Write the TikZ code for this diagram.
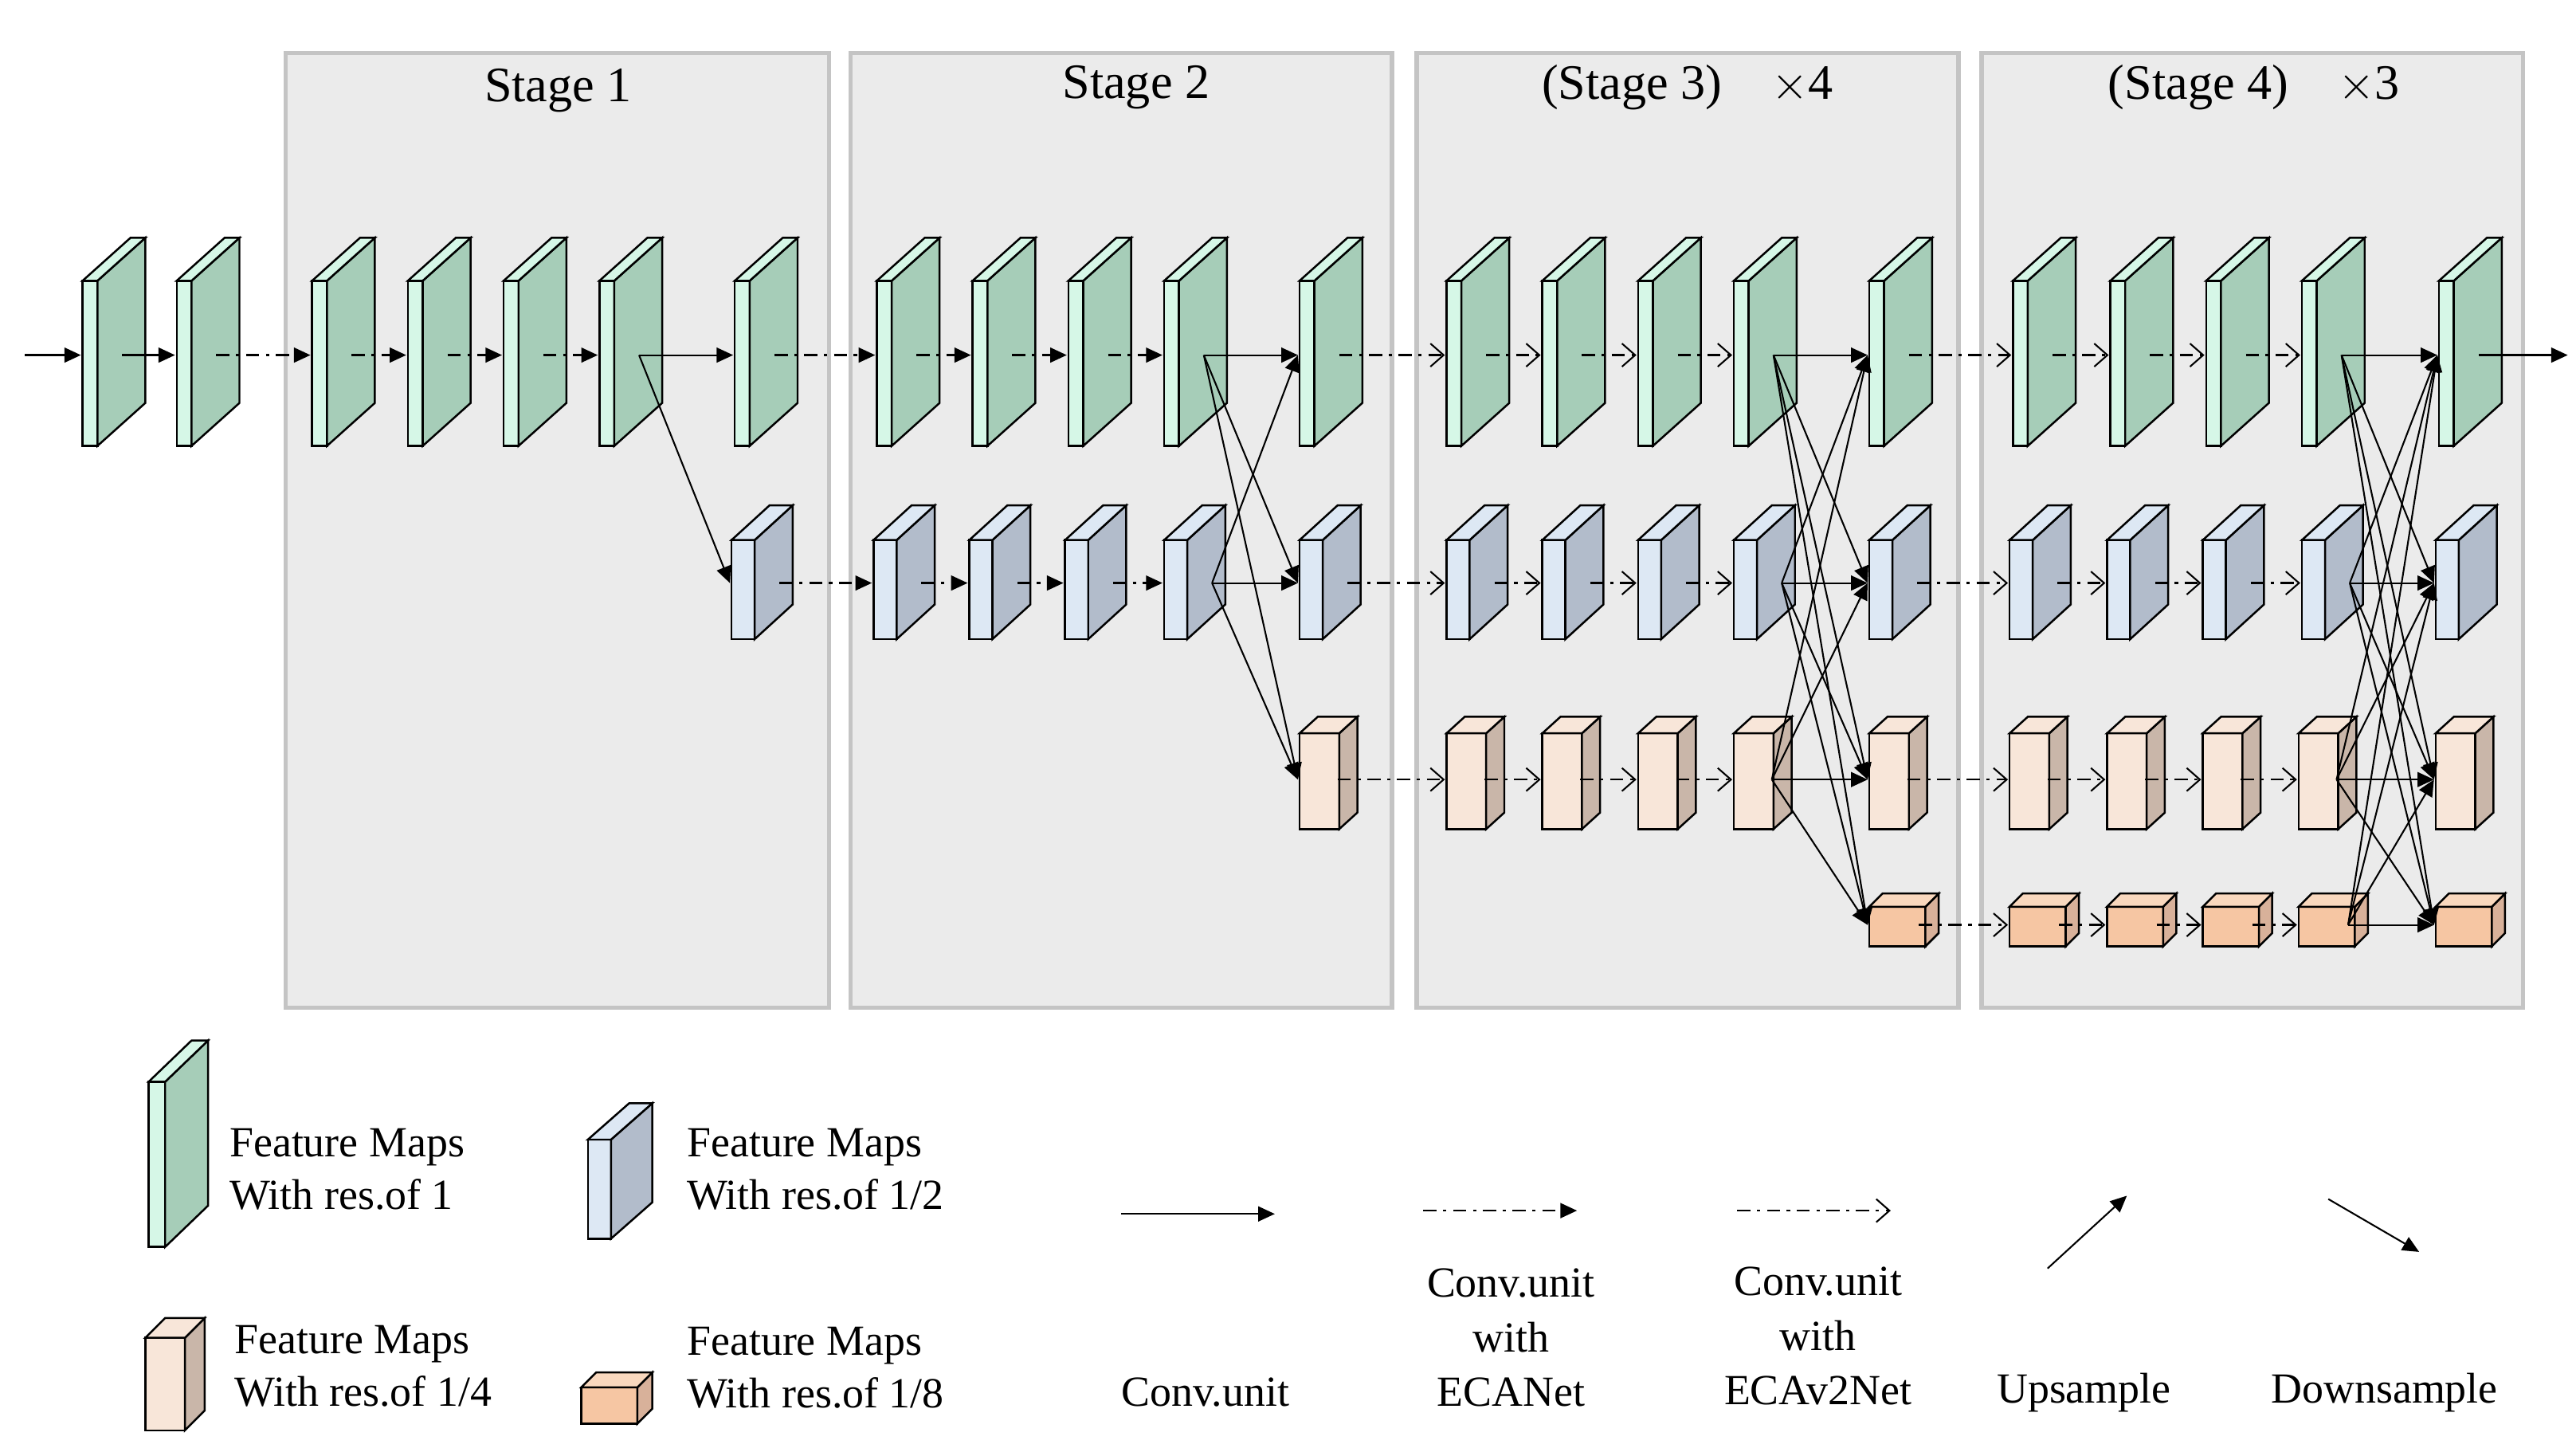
\documentclass[tikz,border=0pt]{standalone}
\usepackage{fontspec}
\setmainfont{Liberation Serif}
\usetikzlibrary{arrows.meta}
\definecolor{gF}{HTML}{D6F7E7}\definecolor{gS}{HTML}{A6CDB8}
\definecolor{bF}{HTML}{DDE8F4}\definecolor{bS}{HTML}{B2BCCB}
\definecolor{tF}{HTML}{F8E6D9}\definecolor{tS}{HTML}{C9B6A9}
\definecolor{oF}{HTML}{F6C6A3}\definecolor{oS}{HTML}{D8B19A}\definecolor{oT}{HTML}{F9D8BE}
\definecolor{stg}{HTML}{EBEBEB}\definecolor{stgb}{HTML}{C4C4C4}
\newcommand\fmbox[9]{% name x ytop w h dx dy F S ; arrow y / out offset via \fmay \fmout
  \draw[line width=0.6pt,fill=#8] (#2,#3) rectangle ++(#4,#5);
  \draw[line width=0.6pt,fill=#9] (#2+#4,#3) -- ++(#6,-#7) -- ++(0,#5) -- ++(-#6,#7) -- cycle;
  \draw[line width=0.6pt,fill=#8] (#2,#3) -- ++(#6,-#7) -- ++(#4,0) -- ++(-#6,#7) -- cycle;
  \coordinate (#1-in) at (#2-1,\fmay);
  \coordinate (#1-out) at (#2+\fmout,\fmay);}
\newcommand\Gb[2]{\def\fmay{215}\def\fmout{24}\fmbox{#1}{#2}{170}{9}{100}{29}{26}{gF}{gS}}
\newcommand\Bb[2]{\def\fmay{353}\def\fmout{29}\fmbox{#1}{#2}{327}{14}{60}{23}{21}{bF}{bS}}
\newcommand\Tb[2]{\def\fmay{472}\def\fmout{23}\fmbox{#1}{#2}{444}{24}{58}{11}{10}{tF}{tS}}
\newcommand\Ob[2]{\def\fmay{560}\def\fmout{30}%
  \draw[line width=0.6pt,fill=oF] (#2,549) rectangle ++(34,24);
  \draw[line width=0.6pt,fill=oS] (#2+34,549) -- ++(8,-8) -- ++(0,24) -- ++(-8,8) -- cycle;
  \draw[line width=0.6pt,fill=oT] (#2,549) -- ++(8,-8) -- ++(34,0) -- ++(-8,8) -- cycle;
  \coordinate (#1-in) at (#2-1,\fmay);
  \coordinate (#1-out) at (#2+\fmout,\fmay);}
\tikzset{
  conv/.style={line width=0.55pt,-{Triangle[length=5pt,width=4.5pt]}},
  eca/.style={line width=0.55pt,dash pattern=on 4pt off 2pt on 1pt off 2pt,-{Triangle[length=5pt,width=4.5pt]}},
  eca2/.style={line width=0.55pt,dash pattern=on 4pt off 2pt on 1pt off 2pt,-{Straight Barb[length=4pt,width=7pt,line width=0.5pt]}},
  fus/.style={line width=0.5pt,-{Triangle[length=5pt,width=4.5pt]}},
  stage/.style={fill=stg,draw=stgb,line width=1.3pt},
  ttl/.style={font=\fontsize{15pt}{18pt}\selectfont},
  lbl/.style={font=\fontsize{13pt}{16pt}\selectfont,align=left,anchor=west},
  lblc/.style={font=\fontsize{13pt}{16.5pt}\selectfont,align=center}
}
\begin{document}
\begin{tikzpicture}[x=0.5pt,y=-0.5pt]
\useasboundingbox (0,0) rectangle (1560,879);
\fill[white] (0,0) rectangle (1560,879);
% stages
\draw[stage] (173,32) rectangle (502,610);
\draw[stage] (515,32) rectangle (843,610);
\draw[stage] (858,32) rectangle (1186,610);
\draw[stage] (1200,32) rectangle (1528,610);
\node[ttl] (s1) at (338,55) {Stage 1};
\node[ttl] (s2) at (688,53) {Stage 2};
\node[ttl] (s3) at (1022,53) {(Stage 3)\quad$\times$4};
\node[ttl] (s4) at (1365,53) {(Stage 4)\quad$\times$3};
% blocks
\foreach \n/\x in {1/50,2/107,3/189,4/247,5/305,6/363,7/445,8/531,9/589,10/647,11/705,12/787,13/876,14/934,15/992,16/1050,17/1132,18/1219,19/1278,20/1336,21/1394,22/1477}{\Gb{g\n}{\x}}
\foreach \n/\x in {1/443,2/529,3/587,4/645,5/705,6/787,7/876,8/934,9/992,10/1050,11/1132,12/1217,13/1276,14/1334,15/1394,16/1475}{\Bb{b\n}{\x}}
\foreach \n/\x in {1/787,2/876,3/934,4/992,5/1050,6/1132,7/1217,8/1276,9/1334,10/1392,11/1475}{\Tb{t\n}{\x}}
\foreach \n/\x in {1/1132,2/1217,3/1276,4/1334,5/1392,6/1475}{\Ob{o\n}{\x}}
% row arrows
\coordinate (inp) at (15,215);
\coordinate (outp) at (1555,215);
\draw[conv] (inp) -- (g1-in);
\draw[conv] (g1-out) -- (g2-in);
\foreach \a/\b in {2/3,3/4,4/5,5/6,7/8,8/9,9/10,10/11}{\draw[eca] (g\a-out) -- (g\b-in);}
\foreach \a/\b in {12/13,13/14,14/15,15/16,17/18,18/19,19/20,20/21}{\draw[eca2] (g\a-out) -- (g\b-in);}
\draw[conv] (g22-out) -- (outp);
\foreach \a/\b in {1/2,2/3,3/4,4/5}{\draw[eca] (b\a-out) -- (b\b-in);}
\foreach \a/\b in {6/7,7/8,8/9,9/10,11/12,12/13,13/14,14/15}{\draw[eca2] (b\a-out) -- (b\b-in);}
\foreach \a/\b in {1/2,2/3,3/4,4/5,6/7,7/8,8/9,9/10}{\draw[eca2] (t\a-out) -- (t\b-in);}
\foreach \a/\b in {1/2,2/3,3/4,4/5}{\draw[eca2] (o\a-out) -- (o\b-in);}
% fusion
\draw[fus] (g6-out) -- (g7-in);
\draw[fus] (g6-out) -- (b1-in);
\foreach \s in {g11,b5}{\foreach \t in {g12,b6,t1}{\draw[fus] (\s-out) -- (\t-in);}}
\foreach \s in {g16,b10,t5}{\foreach \t in {g17,b11,t6,o1}{\draw[fus] (\s-out) -- (\t-in);}}
\foreach \s in {g21,b15,t10,o5}{\foreach \t in {g22,b16,t11,o6}{\draw[fus] (\s-out) -- (\t-in);}}
% legend blocks
\draw[line width=0.6pt,fill=gF] (90,655) rectangle ++(10,100);
\draw[line width=0.6pt,fill=gS] (100,655) -- ++(26,-25) -- ++(0,100) -- ++(-26,25) -- cycle;
\draw[line width=0.6pt,fill=gF] (90,655) -- ++(26,-25) -- ++(10,0) -- ++(-26,25) -- cycle;
\draw[line width=0.6pt,fill=bF] (356,690) rectangle ++(14,60);
\draw[line width=0.6pt,fill=bS] (370,690) -- ++(25,-22) -- ++(0,60) -- ++(-25,22) -- cycle;
\draw[line width=0.6pt,fill=bF] (356,690) -- ++(25,-22) -- ++(14,0) -- ++(-25,22) -- cycle;
\draw[line width=0.6pt,fill=tF] (88,810) rectangle ++(24,56);
\draw[line width=0.6pt,fill=tS] (112,810) -- ++(12,-12) -- ++(0,56) -- ++(-12,12) -- cycle;
\draw[line width=0.6pt,fill=tF] (88,810) -- ++(12,-12) -- ++(24,0) -- ++(-12,12) -- cycle;
\draw[line width=0.6pt,fill=oF] (352,840) rectangle ++(34,22);
\draw[line width=0.6pt,fill=oS] (386,840) -- ++(9,-9) -- ++(0,22) -- ++(-9,9) -- cycle;
\draw[line width=0.6pt,fill=oT] (352,840) -- ++(9,-9) -- ++(34,0) -- ++(-9,9) -- cycle;
\node[lbl] (l1) at (132,708) {Feature Maps\\With res.of 1};
\node[lbl] (l2) at (409,708) {Feature Maps\\With res.of 1/2};
\node[lbl] (l3) at (135,827) {Feature Maps\\With res.of 1/4};
\node[lbl] (l4) at (409,828) {Feature Maps\\With res.of 1/8};
% legend arrows
\coordinate (a1s) at (679,735); \coordinate (a1e) at (772,735);
\coordinate (a2s) at (862,733); \coordinate (a2e) at (955,733);
\coordinate (a3s) at (1052,733); \coordinate (a3e) at (1145,733);
\coordinate (a4s) at (1240,768); \coordinate (a4e) at (1288,724);
\coordinate (a5s) at (1410,726); \coordinate (a5e) at (1465,758);
\draw[conv] (a1s) -- (a1e);
\draw[eca] (a2s) -- (a2e);
\draw[eca2] (a3s) -- (a3e);
\draw[fus] (a4s) -- (a4e);
\draw[fus] (a5s) -- (a5e);
\node[lblc] (c1) at (730,843) {Conv.unit};
\node[lblc] (c2) at (915,810) {Conv.unit\\with\\ECANet};
\node[lblc] (c3) at (1101,809) {Conv.unit\\with\\ECAv2Net};
\node[lblc] (c4) at (1262,843) {Upsample};
\node[lblc] (c5) at (1444,843) {Downsample};
\end{tikzpicture}
\end{document}
